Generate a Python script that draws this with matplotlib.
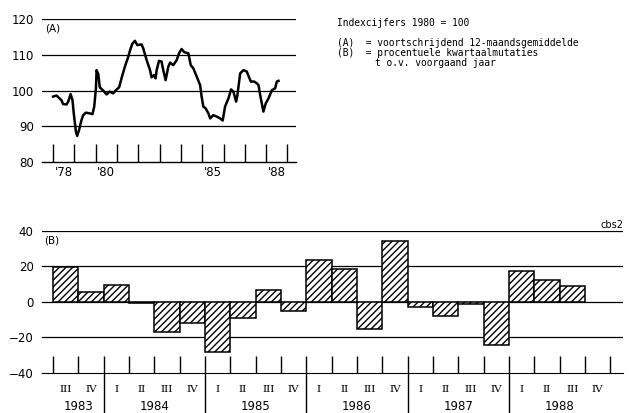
import numpy as np
import matplotlib.pyplot as plt

# (A) voortschrijdend 12-maandsgemiddelde (index 1980 = 100)
jaar_a = [1978.00, 1978.16, 1978.39, 1978.47, 1978.63, 1978.71, 1978.82, 1978.91, 1978.97,
          1979.07, 1979.13, 1979.22, 1979.33, 1979.41, 1979.54, 1979.72, 1979.85, 1979.93,
          1980.01, 1980.04, 1980.12, 1980.19, 1980.35, 1980.51, 1980.66, 1980.82, 1980.95,
          1981.10, 1981.21, 1981.37, 1981.53, 1981.64, 1981.73, 1981.84, 1981.95,
          1982.15, 1982.23, 1982.39, 1982.55, 1982.62, 1982.73, 1982.81, 1982.86, 1982.97,
          1983.09, 1983.17, 1983.28, 1983.41, 1983.49, 1983.64, 1983.80, 1983.91,
          1984.03, 1984.16, 1984.35, 1984.46, 1984.58, 1984.74, 1984.90, 1984.97,
          1985.05, 1985.16, 1985.29, 1985.37, 1985.52, 1985.68, 1985.84, 1985.96,
          1986.07, 1986.23, 1986.35, 1986.46, 1986.59, 1986.65, 1986.78, 1986.93,
          1987.09, 1987.28, 1987.44, 1987.56, 1987.64, 1987.72, 1987.87, 1987.98,
          1988.11, 1988.27, 1988.42, 1988.50, 1988.58]
index_a = [98.3, 98.6, 97.3, 96.2, 96.1, 96.9, 99.0, 97.3, 93.6,
           88.5, 87.3, 89.0, 91.7, 93.1, 93.8, 93.6, 93.4, 95.5,
           100.6, 105.7, 104.6, 100.9, 100.0, 98.9, 99.7, 99.2, 100.1,
           100.9, 103.4, 106.7, 109.5, 111.8, 113.2, 113.9, 112.7,
           112.9, 111.8, 108.5, 105.7, 103.7, 104.3, 103.4, 105.7, 108.3,
           108.1, 105.7, 102.9, 106.7, 107.8, 107.1, 108.5, 110.4,
           111.6, 110.7, 110.4, 107.1, 106.2, 103.9, 101.5, 98.3,
           95.5, 95.0, 93.6, 92.2, 93.1, 92.7, 92.2, 91.6,
           95.5, 97.8, 100.3, 99.7, 96.9, 98.7, 104.8, 105.7,
           105.3, 102.5, 102.5, 102.0, 101.5, 98.7, 94.1, 96.4,
           97.8, 100.1, 100.6, 102.5, 102.7]
jaren_a = ["'78", "'80", "'85", "'88"]

# (B) procentuele kwartaalmutaties t.o.v. voorgaand jaar
kwartalen = ['III', 'IV'] + ['I', 'II', 'III', 'IV'] * 5
jaren_b = ['1983', '1984', '1985', '1986', '1987', '1988']
mutatie_b = [19.5, 5.5, 9.7, -0.3, -16.8, -12.1, -28.0, -9.3, 6.9, -4.9,
             23.7, 18.5, -15.0, 34.4, -3.0, -8.0, -1.0, -24.3,
             17.2, 12.5, 8.8, np.nan]

plt.rcParams['hatch.linewidth'] = 1.0
fig = plt.figure(figsize=(6.31, 4.13), dpi=100)

# ---- top chart
ax1 = fig.add_axes([0.0666, 0.6077, 0.4025, 0.3463])
ax1.plot(jaar_a, index_a, color='black', lw=1.8)
ax1.set_xlim(1977.48, 1989.4)
ax1.set_ylim(80, 120)
for v in [90, 100, 110, 120]:
    ax1.axhline(v, color='black', lw=0.9)
for s in ['top', 'right', 'left']:
    ax1.spines[s].set_visible(False)
ax1.spines['bottom'].set_linewidth(1.0)
ax1.set_yticks([80, 90, 100, 110, 120])
ax1.tick_params(axis='y', length=0, labelsize=8.5, pad=6)
ax1.set_xticks(np.arange(1978, 1990))
ax1.set_xticklabels([])
ax1.tick_params(axis='x', direction='in', length=13, width=1.0)
ax1.set_xticks([1978.5, 1980.5, 1985.5, 1988.5], minor=True)
ax1.set_xticklabels(jaren_a, minor=True, fontsize=8.5)
ax1.tick_params(axis='x', which='minor', length=0, pad=3)
ax1.text(0.012, 0.97, '(A)', transform=ax1.transAxes, fontsize=7.5, va='top')

# ---- legend text
mono = dict(fontsize=6.9, family='DejaVu Sans Mono', va='center')
fig.text(337 / 631, 1 - 23 / 413, 'Indexcijfers 1980 = 100', **mono)
fig.text(337 / 631, 1 - 43 / 413, '(A)  = voortschrijdend 12-maandsgemiddelde', **mono)
fig.text(337 / 631, 1 - 53 / 413, '(B)  = procentuele kwartaalmutaties', **mono)
fig.text(375 / 631, 1 - 63 / 413, 't o.v. voorgaand jaar', **mono)

# ---- bottom chart
ax2 = fig.add_axes([0.0666, 0.0969, 0.9208, 0.3438])
pos = np.arange(len(mutatie_b)) + 0.5
ax2.bar(pos, mutatie_b, width=1.0, facecolor='white', edgecolor='black',
        hatch='/////', lw=1.1, zorder=3)
ax2.set_xlim(-0.43, 22.5)
ax2.set_ylim(-40, 40)
for v in [-20, 0, 20, 40]:
    ax2.axhline(v, color='black', lw=0.9, zorder=1)
for s in ['top', 'right', 'left']:
    ax2.spines[s].set_visible(False)
ax2.set_yticks([-40, -20, 0, 20, 40])
ax2.tick_params(axis='y', length=0, labelsize=8.5, pad=6)
ax2.set_xticks(np.arange(0, 23))
ax2.set_xticklabels([])
ax2.tick_params(axis='x', direction='in', length=12, width=1.0)
ax2.text(0.003, 0.97, '(B)', transform=ax2.transAxes, fontsize=7.5, va='top')
ax2.text(1.0, 1.01, 'cbs2', transform=ax2.transAxes, fontsize=7, ha='right', va='bottom')

# quarter and year labels below the axis
for i, q in enumerate(kwartalen):
    ax2.text(pos[i], -0.113, q, transform=ax2.get_xaxis_transform(), ha='center',
             va='center', fontsize=7.5, family='DejaVu Serif', clip_on=False)
for x in [2, 6, 10, 14, 18]:
    ax2.plot([x, x], [0, -0.35], color='black', lw=1.0,
             transform=ax2.get_xaxis_transform(), clip_on=False)
midden = [1, 4, 8, 12, 16, 20]
for m, j in zip(midden, jaren_b):
    ax2.text(m, -0.235, j, transform=ax2.get_xaxis_transform(), ha='center',
             va='center', fontsize=8.5, clip_on=False)

fig.savefig('out.png', dpi=100)
